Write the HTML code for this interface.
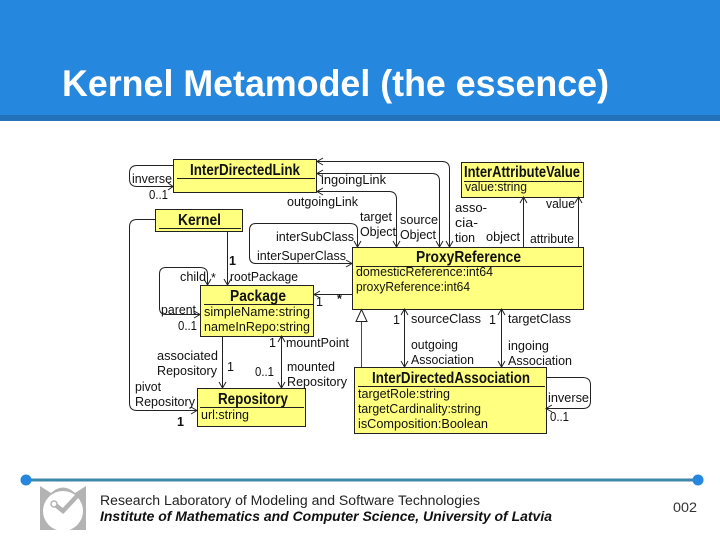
<!DOCTYPE html>
<html><head><meta charset="utf-8"><style>
html,body{margin:0;padding:0;background:#fff}
svg{display:block;font-family:"Liberation Sans",Arial,sans-serif}
</style></head><body>
<svg width="720" height="540" viewBox="0 0 720 540" xmlns="http://www.w3.org/2000/svg">
<rect width="720" height="540" fill="#fff"/>
<rect width="720" height="115" fill="#2587dd"/>
<rect y="115" width="720" height="6" fill="#2371b9"/>
<text x="62" y="96" font-size="37" font-weight="bold" fill="#fff" textLength="547" lengthAdjust="spacingAndGlyphs">Kernel Metamodel (the essence)</text>

<g fill="#ffff80" stroke="#222" stroke-width="1">
<rect x="173.500" y="159.500" width="143" height="33"/>
<rect x="155.500" y="209.500" width="87" height="22"/>
<rect x="200.500" y="285.500" width="113" height="51"/>
<rect x="197.500" y="388.500" width="108" height="38"/>
<rect x="352.500" y="247.500" width="231" height="62"/>
<rect x="461.500" y="162.500" width="122" height="35"/>
<rect x="354.500" y="367.500" width="192" height="66"/>
</g>
<g stroke="#222" stroke-width="1" fill="none">
<path d="M177 178.500H315M159 228.500H241M204 304.500H313M200 407.500H304M356 266.500H582M464 181.500H582M358 386.500H545"/>
<path d="M173 165.500H137Q129.500 165.500 129.500 173V179Q129.500 186.500 137 186.500H173M168 183L173 186.500L168 190"/>
<path d="M155 219.500H137Q129.500 219.500 129.500 227V403Q129.500 410.500 137 410.500H197M191 407L197 410.500L191 414"/>
<path d="M227.500 231V285M224 279L227.500 285L231 279"/>
<path d="M207.500 285V274Q207.500 267.500 200 267.500H166Q159.500 267.500 159.500 274V308Q159.500 314.500 166 314.500H200M204 279L207.500 285L211 279M194 311L200 314.500L194 318"/>
<path d="M352 294.500H314M320 291L314 294.500L320 298"/>
<path d="M357.500 247V230Q357.500 223.500 350 223.500H256Q249.500 223.500 249.500 230V257Q249.500 263.500 256 263.500H352M354 241L357.500 247L361 241M346 260L352 263.500L346 267"/>
<path d="M317 161.500H442Q449.500 161.500 449.500 169V247M323 158L317 161.500L323 165M446 241L449.500 247L453 241"/>
<path d="M317 173.500H432Q439.500 173.500 439.500 181V247M323 170L317 173.500L323 177M436 241L439.500 247L443 241"/>
<path d="M317 191.500H389Q396.500 191.500 396.500 199V247M323 188L317 191.500L323 195M393 241L396.500 247L400 241"/>
<path d="M523.500 247V197M520 203L523.500 197L527 203M578.500 247V197M575 203L578.500 197L582 203"/>
<path d="M404.500 309V367M401 315L404.500 309L408 315M401 361L404.500 367L408 361"/>
<path d="M501.500 309V367M498 315L501.500 309L505 315M498 361L501.500 367L505 361"/>
<path d="M222.500 336V388M219 382L222.500 388L226 382"/>
<path d="M281.500 336V388M278 342L281.500 336L285 342M278 382L281.500 388L285 382"/>
<path d="M546 377.500H583Q590.500 377.500 590.500 385V401Q590.500 408.500 583 408.500H546M552 405L546 408.500L552 412"/>
<path d="M361.500 322V367" stroke="#60308a"/>
<path d="M361.500 309.500L356 321.500H367Z" fill="#fff"/>
</g>

<g fill="#111" font-size="15.500" font-weight="bold">
<text x="190" y="175" textLength="110" lengthAdjust="spacingAndGlyphs">InterDirectedLink</text>
<text x="178" y="225" textLength="43" lengthAdjust="spacingAndGlyphs">Kernel</text>
<text x="230" y="301" textLength="56" lengthAdjust="spacingAndGlyphs">Package</text>
<text x="218" y="404" textLength="70" lengthAdjust="spacingAndGlyphs">Repository</text>
<text x="416" y="262" textLength="105" lengthAdjust="spacingAndGlyphs">ProxyReference</text>
<text x="464" y="177" textLength="116" lengthAdjust="spacingAndGlyphs">InterAttributeValue</text>
<text x="372" y="383" textLength="158" lengthAdjust="spacingAndGlyphs">InterDirectedAssociation</text>
</g>

<g fill="#111" font-size="12.500">
<text x="465" y="191" textLength="62" lengthAdjust="spacingAndGlyphs">value:string</text>
<text x="356" y="276" textLength="137" lengthAdjust="spacingAndGlyphs">domesticReference:int64</text>
<text x="356" y="291" textLength="114" lengthAdjust="spacingAndGlyphs">proxyReference:int64</text>
<text x="204" y="316" textLength="106" lengthAdjust="spacingAndGlyphs">simpleName:string</text>
<text x="204" y="331" textLength="106" lengthAdjust="spacingAndGlyphs">nameInRepo:string</text>
<text x="201" y="419" textLength="48" lengthAdjust="spacingAndGlyphs">url:string</text>
<text x="358" y="398" textLength="92" lengthAdjust="spacingAndGlyphs">targetRole:string</text>
<text x="358" y="413" textLength="123" lengthAdjust="spacingAndGlyphs">targetCardinality:string</text>
<text x="358" y="428" textLength="130" lengthAdjust="spacingAndGlyphs">isComposition:Boolean</text>

<text x="132" y="183" textLength="40" lengthAdjust="spacingAndGlyphs">inverse</text>
<text x="149" y="199" textLength="19" lengthAdjust="spacingAndGlyphs">0..1</text>
<text x="321" y="184" textLength="65" lengthAdjust="spacingAndGlyphs">ingoingLink</text>
<text x="287" y="206" textLength="71" lengthAdjust="spacingAndGlyphs">outgoingLink</text>
<text x="276" y="241" textLength="78" lengthAdjust="spacingAndGlyphs">interSubClass</text>
<text x="257" y="260" textLength="89" lengthAdjust="spacingAndGlyphs">interSuperClass</text>
<text x="230" y="281" textLength="68" lengthAdjust="spacingAndGlyphs">rootPackage</text>
<text x="180" y="281" textLength="26" lengthAdjust="spacingAndGlyphs">child</text>
<text x="211" y="282">*</text>
<text x="229" y="265" font-weight="bold">1</text>
<text x="161" y="314" textLength="35" lengthAdjust="spacingAndGlyphs">parent</text>
<text x="178" y="330" textLength="19" lengthAdjust="spacingAndGlyphs">0..1</text>
<text x="316" y="306">1</text>
<text x="337" y="303" font-weight="bold">*</text>
<text x="269" y="347">1</text>
<text x="286" y="347" textLength="63" lengthAdjust="spacingAndGlyphs">mountPoint</text>
<text x="157" y="360" textLength="61" lengthAdjust="spacingAndGlyphs">associated</text>
<text x="157" y="375" textLength="60" lengthAdjust="spacingAndGlyphs">Repository</text>
<text x="227" y="371">1</text>
<text x="255" y="376" textLength="19" lengthAdjust="spacingAndGlyphs">0..1</text>
<text x="287" y="371" textLength="48" lengthAdjust="spacingAndGlyphs">mounted</text>
<text x="287" y="386" textLength="60" lengthAdjust="spacingAndGlyphs">Repository</text>
<text x="135" y="391" textLength="26" lengthAdjust="spacingAndGlyphs">pivot</text>
<text x="135" y="406" textLength="60" lengthAdjust="spacingAndGlyphs">Repository</text>
<text x="177" y="426" font-weight="bold">1</text>
<text x="360" y="221" textLength="32" lengthAdjust="spacingAndGlyphs">target</text>
<text x="360" y="236" textLength="36" lengthAdjust="spacingAndGlyphs">Object</text>
<text x="400" y="224" textLength="38" lengthAdjust="spacingAndGlyphs">source</text>
<text x="400" y="239" textLength="36" lengthAdjust="spacingAndGlyphs">Object</text>
<text x="455" y="212" textLength="32" lengthAdjust="spacingAndGlyphs">asso-</text>
<text x="455" y="227" textLength="23" lengthAdjust="spacingAndGlyphs">cia-</text>
<text x="455" y="242" textLength="20" lengthAdjust="spacingAndGlyphs">tion</text>
<text x="486" y="241" textLength="34" lengthAdjust="spacingAndGlyphs">object</text>
<text x="530" y="243" textLength="44" lengthAdjust="spacingAndGlyphs">attribute</text>
<text x="546" y="208" textLength="29" lengthAdjust="spacingAndGlyphs">value</text>
<text x="393" y="324">1</text>
<text x="411" y="323" textLength="70" lengthAdjust="spacingAndGlyphs">sourceClass</text>
<text x="489" y="324">1</text>
<text x="508" y="323" textLength="63" lengthAdjust="spacingAndGlyphs">targetClass</text>
<text x="411" y="349" textLength="47" lengthAdjust="spacingAndGlyphs">outgoing</text>
<text x="411" y="364" textLength="63" lengthAdjust="spacingAndGlyphs">Association</text>
<text x="508" y="350" textLength="41" lengthAdjust="spacingAndGlyphs">ingoing</text>
<text x="508" y="365" textLength="64" lengthAdjust="spacingAndGlyphs">Association</text>
<text x="548" y="402" textLength="41" lengthAdjust="spacingAndGlyphs">inverse</text>
<text x="550" y="421" textLength="19" lengthAdjust="spacingAndGlyphs">0..1</text>
</g>

<!-- footer -->
<rect x="26" y="478.500" width="672" height="3" fill="#3d87ad"/>
<circle cx="26" cy="480" r="5.500" fill="#2587dd"/>
<circle cx="698" cy="480" r="5.500" fill="#2587dd"/>
<rect x="40" y="486" width="46" height="44" fill="#b3b3b3"/>
<path d="M40 486L51 493Q63 482 75 493L86 486V484H40Z" fill="#fff"/>
<circle cx="63" cy="511" r="20" fill="#fff"/>
<path d="M53 503L63 511L77 496" fill="none" stroke="#b3b3b3" stroke-width="4.500"/>
<circle cx="54" cy="504" r="3" fill="#fff" stroke="#b3b3b3" stroke-width="1.500"/>

<text x="100" y="505" font-size="13.500" fill="#222" textLength="380" lengthAdjust="spacingAndGlyphs">Research Laboratory of Modeling and Software Technologies</text>
<text x="100" y="521" font-size="13.500" font-weight="bold" font-style="italic" fill="#111" textLength="452" lengthAdjust="spacingAndGlyphs">Institute of Mathematics and Computer Science, University of Latvia</text>
<text x="673" y="512" font-size="13.500" fill="#333" textLength="24" lengthAdjust="spacingAndGlyphs">002</text>
</svg>
</body></html>
